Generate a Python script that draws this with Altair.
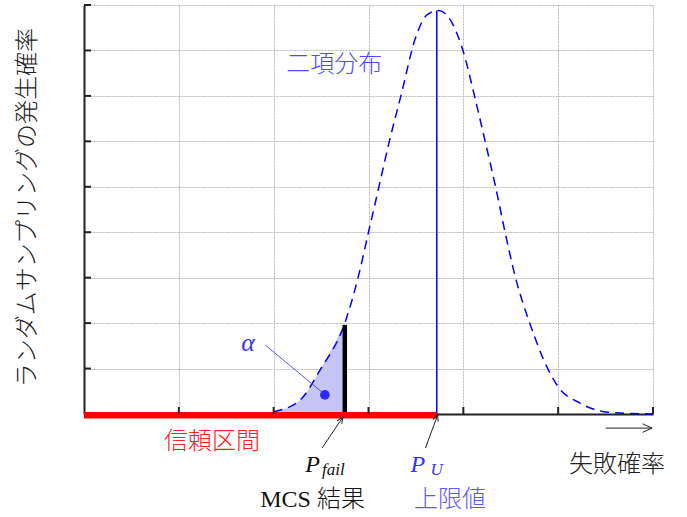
import altair as alt
import pandas as pd

# ---- data ----
curve_x = [2.0, 2.28, 2.49, 2.75, 2.89, 3.0, 3.11, 3.22, 3.35, 3.49, 3.62, 3.74,
           3.88, 4.0, 4.12, 4.23, 4.34, 4.44, 4.55, 4.70, 4.89, 5.0, 5.23, 5.52, 6.0]
curve_y = [0.05, 0.31, 0.97, 2.0, 3.0, 4.0, 5.0, 6.0, 7.07, 8.24, 8.79, 8.88,
           8.61, 7.97, 6.98, 6.0, 5.0, 4.0, 3.0, 2.0, 1.0, 0.6, 0.24, 0.04, 0.0]
grid_x = [0, 1, 2, 3, 4, 5, 6]
grid_y = [0, 1, 2, 3, 4, 5, 6, 7, 8, 9]
p_fail = 2.75
p_fail_height = 1.96
p_u = 3.72
p_u_height = 8.88
alpha_point = (2.54, 0.42)

JP = "Noto Sans CJK JP"
SERIF = "Liberation Serif, Noto Sans CJK JP"
BLUE = "#0000ff"
LBLUE = "#4d4dff"

curve = pd.DataFrame({"x": curve_x, "y": curve_y})
fill = curve[curve["x"] <= p_fail]

xs = alt.Scale(domain=[0, 6], nice=False, zero=False)
ys = alt.Scale(domain=[0, 9], nice=False, zero=False)

xax = alt.Axis(values=grid_x, grid=True, labels=False, ticks=False, title=None,
               domain=True, domainColor="#222222", domainWidth=2,
               gridColor="#b8b8b8", gridDash=[2, 1], gridWidth=1)
yax = alt.Axis(values=grid_y, grid=True, labels=False, ticks=False, title=None,
               domain=True, domainColor="#222222", domainWidth=2,
               gridColor="#b8b8b8", gridDash=[2, 1], gridWidth=1)

X = lambda f="x": alt.X(f"{f}:Q", scale=xs, axis=xax)
Y = lambda f="y": alt.Y(f"{f}:Q", scale=ys, axis=yax)

area = alt.Chart(fill).mark_area(color="#c6c6f6", interpolate="monotone").encode(x=X(), y=Y())

line = alt.Chart(curve).mark_line(color=BLUE, strokeWidth=1.5, strokeDash=[9, 6],
                                  interpolate="monotone").encode(x=X(), y=Y())

pu_line = alt.Chart(pd.DataFrame({"x": [p_u], "y": [0], "y2": [p_u_height]})).mark_rule(
    color=BLUE, strokeWidth=1.5).encode(x=X(), y=Y(), y2="y2:Q")

pf_bar = alt.Chart(pd.DataFrame({"x": [p_fail], "y": [0], "y2": [p_fail_height]})).mark_rule(
    color="black", strokeWidth=4.5).encode(x=X(), y=Y(), y2="y2:Q")

red_bar = alt.Chart(pd.DataFrame({"x": [0], "x2": [p_u], "y": [-0.03]})).mark_rule(
    color="#ff0000", strokeWidth=6.5).encode(x=X(), x2="x2:Q", y=Y())

yticks = alt.Chart(pd.DataFrame({"y": grid_y[1:]})).mark_rule(color="#222222", strokeWidth=2).encode(
    x=alt.value(0), x2=alt.value(7), y=Y())
xticks = alt.Chart(pd.DataFrame({"x": grid_x[1:]})).mark_rule(color="#222222", strokeWidth=2).encode(
    x=X(), y=alt.value(409), y2=alt.value(402))

dot = alt.Chart(pd.DataFrame({"x": [alpha_point[0]], "y": [alpha_point[1]]})).mark_point(
    filled=True, color="#2a2aff", size=95, opacity=1).encode(x=X(), y=Y())

alpha_line = alt.Chart(pd.DataFrame({"x": [1.91], "y": [1.52], "x2": [2.51], "y2": [0.48]})).mark_rule(
    color="#4444ff", strokeWidth=0.9).encode(x=X(), y=Y(), x2="x2:Q", y2="y2:Q")

# annotation leader lines (with arrowheads)
lead = pd.DataFrame({"x": [2.51, 3.60, 5.50], "y": [-0.75, -0.75, -0.31],
                     "x2": [2.73, 3.73, 5.99], "y2": [-0.07, -0.02, -0.31]})
leaders = alt.Chart(lead).mark_rule(color="#222222", strokeWidth=1).encode(
    x=X(), y=Y(), x2="x2:Q", y2="y2:Q")
heads = pd.DataFrame({"x": [2.73, 3.73, 5.99], "y": [-0.07, -0.02, -0.31],
                      "ang": [34, 21, 90], "sz": [150, 150, 360]})
arrowheads = alt.Chart(heads).mark_point(
    shape="M-0.45,1L0,0L0.45,1", filled=False, color="#222222", strokeWidth=1, opacity=1).encode(
    x=X(), y=Y(), angle=alt.Angle("ang:Q", scale=None), size=alt.Size("sz:Q", scale=None))


def txt(text, x, y, color, size, font=JP, style="normal", align="center", baseline="middle",
        angle=0, weight=300):
    return alt.Chart(pd.DataFrame({"x": [x], "y": [y], "t": [text]})).mark_text(
        color=color, fontSize=size, font=font, fontStyle=style, align=align, fontWeight=weight,
        baseline=baseline, angle=angle).encode(x=X(), y=Y(), text="t:N")


texts = [
    txt("ランダムサンプリングの発生確率", -0.59, 4.54, "#222222", 24, angle=270),
    txt("二項分布", 2.64, 7.69, LBLUE, 24),
    txt("α", 1.73, 1.56, "#3333ff", 26, font="Liberation Serif", style="italic", weight=400),
    txt("信頼区間", 1.35, -0.62, "#ff2020", 24),
    txt("失敗確率", 5.62, -1.12, "#222222", 24),
    txt("MCS 結果", 2.41, -1.90, "#111111", 24, font=SERIF),
    txt("上限値", 3.86, -1.90, "#5a5aff", 24),
    txt("P", 2.41, -1.27, "#111111", 24, font="Liberation Serif", style="italic", baseline="alphabetic",
        weight=400),
    txt("fail", 2.51, -1.35, "#111111", 17, font="Liberation Serif", style="italic", align="left",
        baseline="alphabetic", weight=400),
    txt("P", 3.52, -1.27, "#3333ff", 24, font="Liberation Serif", style="italic", baseline="alphabetic",
        weight=400),
    txt("U", 3.655, -1.35, "#3333ff", 17, font="Liberation Serif", style="italic", align="left",
        baseline="alphabetic", weight=400),
]

chart = alt.layer(area, line, pu_line, pf_bar, red_bar, yticks, xticks, alpha_line, dot,
                  leaders, arrowheads, *texts).properties(
    width=569, height=409,
    autosize=alt.AutoSizeParams(type="none"),
    padding={"left": 84, "top": 5, "right": 34, "bottom": 103},
).configure_view(strokeWidth=0)

chart.save("out.html", embed_options={"renderer": "svg", "actions": False})
